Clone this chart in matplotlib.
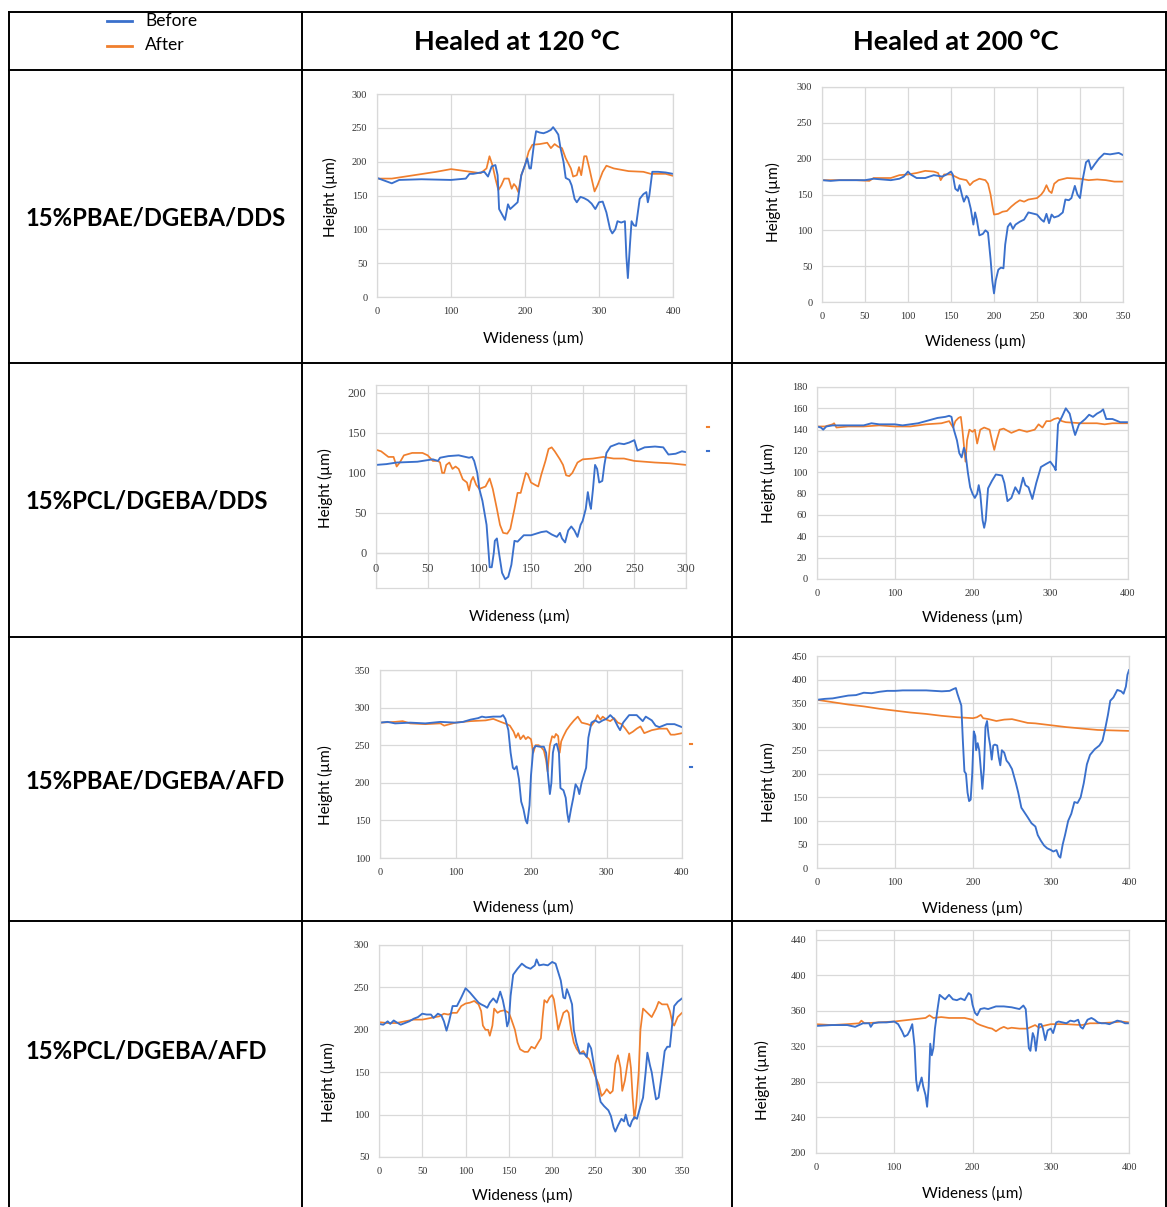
import matplotlib
matplotlib.use("Agg")
from matplotlib import pyplot as plt
from matplotlib.lines import Line2D

# --- data (x = wideness in um, y = height in um) ---

# row 1: 15%PBAE/DGEBA/DDS, healed at 120 C
r1c1_before_x = [0, 10, 20, 30, 60, 100, 120, 125, 130, 145, 150, 155, 160, 163, 165, 170, 173, 177, 180, 185, 190, 195,
                 200, 203, 206, 208, 212, 215, 220, 225, 230, 235, 238, 242, 245, 248, 252, 255, 260, 263, 267, 270, 275,
                 280, 285, 290, 295, 300, 305, 310, 315, 318, 322, 325, 330, 335, 337, 339, 342, 344, 347, 350, 355, 360,
                 364, 366, 368, 372, 380, 390, 400]
r1c1_before_y = [176, 172, 168, 173, 174, 173, 175, 182, 182, 185, 178, 193, 195, 180, 130, 120, 114, 137, 130, 135, 140, 180,
                 195, 205, 190, 190, 225, 245, 243, 242, 244, 247, 251, 245, 240, 220, 200, 176, 173, 165, 145, 140, 148,
                 146, 143, 138, 130, 140, 141, 125, 100, 94, 100, 112, 110, 112, 60, 28, 80, 112, 106, 105, 145, 152,
                 155, 140, 150, 185, 185, 184, 182]
r1c1_after_x = [0, 20, 50, 80, 100, 120, 140, 148, 152, 156, 160, 164, 168, 172, 178, 182, 185, 188, 191, 195, 200, 205, 210,
                220, 230, 235, 240, 245, 250, 255, 262, 265, 270, 273, 276, 280, 283, 287, 290, 294, 298, 305, 310, 320,
                340, 360, 370, 390, 400]
r1c1_after_y = [175, 175, 180, 185, 189, 186, 183, 190, 208, 195, 175, 158, 165, 175, 175, 160, 167, 163, 155, 180, 195, 215,
                225, 226, 228, 220, 226, 222, 220, 205, 190, 178, 180, 192, 180, 208, 208, 190, 175, 156, 165, 185, 194,
                190, 186, 185, 182, 182, 179]

# row 1: healed at 200 C
r1c2_before_x = [0, 10, 20, 50, 60, 80, 90, 95, 100, 103, 110, 120, 130, 140, 145, 150, 152, 155, 158, 160, 163, 165, 168,
                 170, 173, 176, 178, 180, 183, 187, 190, 193, 196, 198, 200, 202, 205, 208, 211, 213, 216, 219, 222, 225,
                 230, 235, 240, 250, 255, 258, 261, 264, 267, 270, 275, 280, 283, 287, 290, 294, 297, 300, 303, 307, 310,
                 313, 317, 322, 328, 335, 340, 345, 350]
r1c2_before_y = [170, 169, 170, 170, 172, 170, 172, 175, 182, 178, 173, 173, 177, 175, 178, 182, 178, 158, 155, 163, 148, 140,
                 148, 145, 130, 108, 125, 115, 93, 95, 100, 97, 60, 30, 12, 30, 45, 48, 47, 80, 105, 110, 102, 108,
                 112, 115, 125, 122, 115, 112, 123, 110, 122, 118, 120, 125, 143, 142, 145, 162, 150, 145, 170, 195, 198,
                 185, 192, 200, 207, 206, 207, 208, 205]
r1c2_after_x = [0, 20, 40, 55, 60, 80, 90, 100, 110, 120, 130, 135, 138, 142, 150, 160, 168, 172, 176, 183, 190, 193, 196,
                198, 200, 205, 210, 215, 220, 225, 230, 235, 240, 245, 250, 255, 258, 261, 264, 267, 270, 275, 285, 300,
                310, 320, 330, 340, 350]
r1c2_after_y = [170, 170, 170, 169, 173, 173, 177, 178, 180, 183, 182, 180, 170, 178, 178, 172, 170, 163, 168, 172, 170, 165,
                150, 135, 122, 123, 126, 127, 133, 138, 142, 140, 143, 144, 145, 150, 155, 163, 155, 152, 165, 170, 173,
                172, 170, 171, 170, 168, 168]

# row 2: 15%PCL/DGEBA/DDS, healed at 120 C
r2c1_before_x = [0, 10, 20, 40, 55, 60, 62, 70, 80, 90, 93, 95, 98, 100, 103, 105, 107, 109, 110, 112, 114, 115, 117, 119,
                 122, 125, 128, 131, 133, 134, 137, 140, 143, 150, 160, 165, 170, 175, 178, 180, 183, 186, 189, 192, 195,
                 198, 200, 203, 205, 207, 208, 210, 212, 214, 216, 219, 221, 223, 227, 235, 240, 245, 250, 253, 260, 270,
                 278, 283, 290, 296, 300]
r2c1_before_y = [110, 111, 113, 114, 117, 115, 119, 121, 122, 119, 120, 115, 100, 80, 65, 50, 35, 0, -18, -18, 0, 15, 18, 0,
                 -25, -33, -30, -15, 5, 15, 14, 18, 22, 22, 26, 27, 23, 20, 25, 18, 13, 28, 33, 28, 20,
                 35, 40, 55, 76, 60, 55, 80, 110, 105, 88, 90, 110, 125, 133, 137, 136, 138, 141, 128, 132, 133,
                 132, 123, 124, 127, 126]
r2c1_after_x = [0, 5, 12, 17, 20, 23, 27, 35, 45, 50, 55, 60, 62, 64, 66, 68, 71, 74, 77, 80, 84, 88, 90, 92, 94, 97, 100,
                106, 110, 113, 117, 120, 123, 127, 130, 134, 137, 140, 143, 145, 147, 150, 154, 157, 160, 164, 167, 170,
                173, 178, 181, 184, 187, 190, 195, 200, 210, 220, 230, 240, 250, 270, 285, 300]
r2c1_after_y = [129, 127, 120, 120, 108, 113, 122, 125, 125, 122, 115, 115, 113, 100, 100, 110, 113, 105, 108, 105, 92, 88, 78,
                90, 95, 85, 80, 83, 93, 80, 55, 35, 25, 24, 30, 55, 75, 75, 90, 100, 98, 88, 85, 83, 98, 115, 130, 132,
                127, 117, 110, 97, 96, 100, 113, 117, 118, 120, 118, 118, 115, 113, 112, 110]

# row 2: healed at 200 C
r2c2_before_x = [0, 5, 8, 12, 20, 40, 60, 70, 80, 100, 110, 130, 140, 150, 155, 165, 170, 173, 176, 180, 183, 186, 189, 191,
                 194, 197, 200, 203, 206, 208, 210, 213, 215, 217, 220, 225, 230, 238, 241, 245, 250, 255, 260, 265, 268,
                 272, 277, 282, 288, 295, 300, 305, 307, 310, 315, 320, 325, 330, 332, 337, 345, 350, 355, 360, 365, 368,
                 372, 380, 390, 400]
r2c2_before_y = [143, 142, 140, 143, 144, 144, 144, 146, 145, 145, 144, 146, 148, 150, 151, 152, 153, 152, 140, 130, 118, 114,
                 123, 118, 100, 86, 80, 76, 80, 88, 80, 55, 48, 55, 85, 92, 98, 97, 90, 73, 76, 86, 80, 95, 88,
                 86, 75, 90, 105, 108, 110, 105, 102, 145, 152, 160, 155, 140, 135, 145, 150, 154, 152, 155, 157, 159,
                 150, 150, 147, 147]
r2c2_after_x = [0, 10, 20, 22, 25, 40, 60, 80, 100, 120, 140, 160, 170, 175, 178, 182, 185, 187, 189, 191, 193, 196, 200,
                203, 206, 210, 215, 222, 225, 228, 231, 235, 240, 250, 260, 270, 280, 285, 290, 295, 300, 305, 310, 315,
                320, 340, 360, 370, 380, 400]
r2c2_after_y = [143, 143, 145, 146, 142, 143, 143, 144, 143, 143, 145, 146, 148, 142, 148, 151, 152, 140, 125, 110, 130, 140,
                138, 140, 127, 140, 142, 140, 130, 121, 130, 140, 141, 137, 140, 138, 140, 145, 142, 148, 148, 150, 151,
                148, 147, 146, 146, 145, 146, 146]

# row 3: 15%PBAE/DGEBA/AFD, healed at 120 C
r3c1_before_x = [0, 10, 20, 40, 60, 80, 100, 110, 120, 130, 135, 140, 150, 160, 163, 166, 170, 173, 176, 178, 181, 184, 187,
                 190, 193, 195, 198, 200, 203, 206, 212, 217, 220, 223, 225, 227, 229, 231, 234, 237, 239, 243, 246, 248,
                 250, 253, 256, 259, 262, 264, 267, 270, 273, 276, 280, 285, 290, 295, 300, 305, 310, 315, 318, 322, 330,
                 340, 345, 348, 352, 360, 365, 370, 375, 380, 390, 400]
r3c1_before_y = [280, 281, 279, 280, 279, 281, 280, 281, 284, 286, 288, 287, 288, 288, 290, 285, 270, 240, 220, 218, 222, 205,
                 175, 165, 150, 146, 170, 210, 245, 249, 248, 248, 240, 205, 185, 200, 240, 250, 252, 240, 193, 190, 180,
                 160, 148, 165, 180, 198, 193, 185, 200, 210, 220, 260, 280, 283, 280, 283, 285, 290, 285, 275, 270, 280,
                 290, 290, 285, 282, 288, 283, 276, 274, 276, 278, 278, 274]
r3c1_after_x = [0, 20, 30, 40, 60, 80, 85, 100, 120, 140, 150, 160, 168, 172, 177, 180, 183, 186, 190, 193, 196, 200, 203,
                206, 210, 213, 217, 220, 222, 225, 228, 231, 233, 236, 238, 240, 243, 247, 252, 257, 262, 267, 275, 280,
                285, 288, 292, 295, 300, 305, 310, 315, 320, 325, 330, 335, 340, 345, 350, 360, 370, 380, 385, 390, 400]
r3c1_after_y = [280, 281, 282, 279, 278, 279, 276, 280, 282, 283, 285, 281, 278, 276, 268, 260, 266, 258, 263, 258, 261, 258,
                240, 250, 250, 248, 243, 230, 215, 250, 262, 260, 265, 262, 240, 255, 262, 270, 277, 283, 288, 280, 278,
                276, 283, 290, 284, 288, 284, 282, 286, 280, 278, 272, 265, 268, 272, 275, 266, 270, 272, 272, 264, 264,
                266]

# row 3: healed at 200 C
r3c2_before_x = [0, 10, 20, 30, 40, 50, 60, 70, 80, 90, 100, 110, 120, 140, 160, 170, 175, 178, 180, 183, 185, 187, 189, 191,
                 193, 195, 197, 199, 201, 203, 204, 206, 208, 210, 212, 214, 216, 218, 220, 222, 224, 226, 228, 231, 233,
                 235, 237, 240, 243, 246, 250, 255, 258, 262, 266, 270, 275, 280, 283, 287, 291, 295, 300, 303, 307, 310,
                 312, 315, 318, 322, 326, 330, 334, 338, 342, 346, 350, 356, 362, 366, 370, 373, 376, 380, 385, 390, 393,
                 396, 398, 400]
r3c2_before_y = [357, 359, 360, 363, 366, 367, 372, 371, 374, 376, 376, 377, 377, 377, 375, 376, 380, 382, 370, 355, 345, 270,
                 205, 200, 160, 142, 145, 200, 290, 280, 250, 265, 250, 210, 168, 210, 300, 312, 280, 260, 230, 260, 262,
                 260, 235, 218, 250, 245, 228, 222, 210, 180, 160, 128, 118, 108, 95, 88, 70, 58, 48, 42, 38, 35, 38, 25,
                 22, 50, 70, 100, 115, 140, 138, 150, 180, 220, 240, 252, 260, 270, 300, 325, 355, 362, 378, 375, 370,
                 385, 410, 420]
r3c2_after_x = [0, 20, 40, 60, 80, 100, 120, 140, 160, 180, 200, 205, 210, 213, 220, 230, 240, 250, 260, 270, 280, 300, 320,
                340, 360, 380, 400]
r3c2_after_y = [357, 352, 347, 343, 338, 334, 330, 327, 323, 320, 318, 320, 325, 318, 316, 312, 315, 316, 312, 308, 307, 303,
                299, 296, 293, 292, 291]

# row 4: 15%PCL/DGEBA/AFD, healed at 120 C
r4c1_before_x = [0, 5, 10, 13, 17, 20, 25, 30, 35, 40, 45, 50, 55, 60, 63, 68, 72, 75, 78, 81, 85, 90, 95, 100, 105, 110, 115,
                 118, 122, 125, 128, 132, 136, 140, 143, 146, 148, 150, 152, 155, 160, 165, 170, 175, 180, 182, 185, 190,
                 195, 200, 204, 207, 210, 213, 215, 217, 220, 223, 225, 228, 232, 237, 240, 242, 245, 248, 252, 256, 260,
                 265, 268, 271, 273, 276, 280, 283, 285, 288, 290, 292, 295, 298, 302, 305, 308, 310, 313, 315, 318, 320,
                 323, 327, 330, 333, 336, 338, 341, 345, 350]
r4c1_before_y = [207, 206, 210, 207, 211, 209, 206, 208, 210, 213, 215, 219, 218, 218, 214, 219, 217, 210, 199, 210, 228, 228,
                 238, 249, 244, 238, 232, 230, 228, 226, 232, 237, 232, 245, 235, 220, 204, 210, 240, 265, 272, 278, 274,
                 272, 276, 283, 276, 277, 276, 280, 278, 268, 258, 238, 237, 248, 240, 230, 200, 185, 172, 172, 168, 184,
                 178, 160, 135, 115, 110, 105, 98, 85, 80, 87, 95, 92, 100, 88, 86, 92, 97, 95, 110, 120, 150, 173, 158,
                 150, 130, 118, 120, 150, 175, 180, 180, 200, 228, 233, 237]
r4c1_after_x = [0, 10, 20, 30, 40, 50, 60, 70, 75, 80, 85, 90, 95, 100, 105, 110, 115, 118, 120, 123, 126, 128, 131, 133, 137,
                140, 145, 150, 153, 157, 160, 163, 168, 172, 176, 180, 184, 187, 189, 191, 194, 197, 200, 202, 205, 207,
                210, 213, 217, 219, 222, 225, 228, 232, 236, 240, 243, 246, 250, 254, 257, 260, 263, 267, 270, 273, 276,
                279, 281, 284, 287, 289, 291, 293, 295, 297, 300, 302, 305, 310, 315, 320, 323, 327, 333, 336, 339, 341,
                345, 350]
r4c1_after_y = [209, 208, 208, 210, 212, 212, 214, 216, 219, 218, 220, 220, 228, 231, 232, 234, 230, 222, 205, 200, 200, 193,
                205, 225, 220, 222, 223, 220, 212, 200, 185, 177, 174, 174, 180, 178, 185, 190, 215, 235, 232, 238, 241,
                236, 215, 200, 210, 220, 223, 220, 200, 185, 178, 172, 175, 168, 165, 155, 145, 135, 122, 125, 130, 125,
                128, 160, 170, 155, 128, 140, 160, 172, 155, 120, 95, 110, 150, 200, 225, 220, 215, 225, 233, 230, 230,
                222, 208, 205, 215, 220]

# row 4: healed at 200 C
r4c2_before_x = [0, 20, 40, 50, 60, 68, 70, 73, 80, 90, 100, 105, 110, 113, 117, 120, 123, 126, 128, 130, 132, 135, 137, 140,
                 142, 144, 146, 148, 150, 152, 155, 158, 162, 165, 170, 175, 180, 185, 190, 195, 198, 200, 203, 206, 210,
                 215, 220, 230, 240, 250, 260, 265, 268, 270, 272, 274, 277, 279, 281, 283, 285, 288, 290, 293, 296, 300,
                 303, 307, 310, 320, 325, 330, 335, 338, 341, 344, 347, 352, 356, 360, 365, 370, 375, 380, 385, 390, 395,
                 400]
r4c2_before_y = [343, 344, 344, 342, 346, 346, 342, 346, 347, 347, 348, 345, 337, 331, 333, 338, 345, 320, 282, 270, 276, 285,
                 275, 265, 252, 275, 323, 310, 318, 340, 360, 378, 375, 373, 378, 373, 372, 374, 372, 380, 378, 367, 358,
                 355, 362, 363, 362, 365, 365, 364, 362, 366, 362, 340, 318, 315, 335, 330, 315, 330, 345, 345, 340, 327,
                 338, 340, 335, 347, 348, 346, 349, 348, 350, 342, 340, 345, 350, 352, 350, 347, 346, 346, 345, 347, 349,
                 348, 346, 346]
r4c2_after_x = [0, 20, 40, 55, 58, 62, 80, 100, 110, 120, 130, 140, 145, 150, 160, 170, 180, 190, 200, 205, 210, 220, 225, 230,
                235, 240, 245, 250, 260, 270, 275, 280, 285, 290, 300, 320, 340, 350, 360, 380, 390, 400]
r4c2_after_y = [345, 344, 345, 346, 349, 346, 347, 348, 349, 350, 351, 352, 355, 352, 353, 352, 352, 352, 350, 346, 344, 341,
                340, 337, 340, 342, 340, 341, 340, 340, 342, 344, 341, 343, 345, 345, 344, 346, 346, 347, 348, 347]

row_labels = ["15%PBAE/DGEBA/DDS", "15%PCL/DGEBA/DDS", "15%PBAE/DGEBA/AFD", "15%PCL/DGEBA/AFD"]
col_labels = ["Healed at 120 °C", "Healed at 200 °C"]
series_labels = ["Before", "After"]

# --- styling ---
W, H = 1167, 1207
BLUE = "#3a70cc"
ORANGE = "#f07f2d"
GRID = "#d9d9d9"
TICK_FONT = "Liberation Serif"
SANS = "Lato"


def fx(px):
    return px / W


def fy(py):
    return 1 - py / H


fig = plt.figure(figsize=(W / 100, H / 100), dpi=100)
fig.patch.set_facecolor("white")


def hline(y, x0, x1):
    fig.add_artist(Line2D([fx(x0), fx(x1)], [fy(y), fy(y)], color="black", lw=1.4))


def vline(x, y0, y1):
    fig.add_artist(Line2D([fx(x), fx(x)], [fy(y0), fy(y1)], color="black", lw=1.4))


# table grid
for y in [12, 70, 363, 637, 921]:
    hline(y, 9, 1167)
for x in [9, 302, 732, 1166]:
    vline(x, 12, 1207)

# header
fig.text(fx(517), fy(42), col_labels[0], ha="center", va="center", fontsize=19.5, fontweight="bold", family=SANS)
fig.text(fx(956), fy(42), col_labels[1], ha="center", va="center", fontsize=19.5, fontweight="bold", family=SANS)

# legend in the corner cell
fig.add_artist(Line2D([fx(107), fx(132)], [fy(21), fy(21)], color=BLUE, lw=2))
fig.add_artist(Line2D([fx(107), fx(132)], [fy(46), fy(46)], color=ORANGE, lw=2))
fig.text(fx(145), fy(21), series_labels[0], ha="left", va="center", fontsize=12.5, family=SANS)
fig.text(fx(145), fy(45), series_labels[1], ha="left", va="center", fontsize=12.5, family=SANS)

# row labels
for lab, yc in zip(row_labels, [218, 501, 781, 1051]):
    fig.text(fx(25), fy(yc), lab, ha="left", va="center", fontsize=17.2, fontweight="bold", family=SANS)


def panel(box, bx, by, axx, ay, xlim, ylim, xticks, yticks, xlab_at, ylab_at, labels_at_zero=False):
    l, r, t, b = box
    ax = fig.add_axes([fx(l), fy(b), (r - l) / W, (b - t) / H])
    ax.plot(axx, ay, color=ORANGE, lw=1.25)
    ax.plot(bx, by, color=BLUE, lw=1.35)
    ax.set_xlim(*xlim)
    ax.set_ylim(*ylim)
    ax.set_xticks(xticks)
    ax.set_yticks(yticks)
    ax.grid(True, color=GRID, lw=0.9)
    ax.set_axisbelow(True)
    for s in ax.spines.values():
        s.set_color(GRID)
        s.set_linewidth(0.9)
    ax.tick_params(length=0, pad=7, labelsize=7.5, labelcolor="#333333")
    for lab in ax.get_xticklabels() + ax.get_yticklabels():
        lab.set_family(TICK_FONT)
    if labels_at_zero:
        ax.set_xticklabels([])
        ax.axhline(0, color=GRID, lw=0.9, zorder=0)
        for xt in xticks:
            ax.annotate(str(xt), (xt, 0), xytext=(0, -7), textcoords="offset points", ha="center", va="top",
                        fontsize=9, family=TICK_FONT, color="#444444")
        for lab in ax.get_yticklabels():
            lab.set_fontsize(9)
            lab.set_color("#444444")
    fig.text(fx(xlab_at[0]), fy(xlab_at[1]), "Wideness (µm)", ha="center", va="center", fontsize=11, family=SANS)
    fig.text(fx(ylab_at[0]), fy(ylab_at[1]), "Height (µm)", ha="center", va="center", fontsize=11, family=SANS,
             rotation=90)
    return ax


panel((377, 673, 94, 297), r1c1_before_x, r1c1_before_y, r1c1_after_x, r1c1_after_y,
      (0, 400), (0, 300), range(0, 401, 100), range(0, 301, 50), (533, 338), (330, 197))
panel((822, 1123, 87, 302), r1c2_before_x, r1c2_before_y, r1c2_after_x, r1c2_after_y,
      (0, 350), (0, 300), range(0, 351, 50), range(0, 301, 50), (975, 341), (773, 202))
panel((376, 686, 385, 588), r2c1_before_x, r2c1_before_y, r2c1_after_x, r2c1_after_y,
      (0, 300), (-44, 210), range(0, 301, 50), range(0, 201, 50), (519, 616), (325, 488), labels_at_zero=True)
panel((817, 1128, 387, 579), r2c2_before_x, r2c2_before_y, r2c2_after_x, r2c2_after_y,
      (0, 400), (0, 180), range(0, 401, 100), range(0, 181, 20), (972, 617), (768, 483))
panel((380, 682, 670, 858), r3c1_before_x, r3c1_before_y, r3c1_after_x, r3c1_after_y,
      (0, 400), (100, 350), range(0, 401, 100), range(100, 351, 50), (523, 907), (325, 785))
panel((817, 1129, 656, 868), r3c2_before_x, r3c2_before_y, r3c2_after_x, r3c2_after_y,
      (0, 400), (0, 450), range(0, 401, 100), range(0, 451, 50), (972, 908), (768, 782))
panel((379, 682, 945, 1157), r4c1_before_x, r4c1_before_y, r4c1_after_x, r4c1_after_y,
      (0, 350), (50, 300), range(0, 351, 50), range(50, 301, 50), (522, 1195), (328, 1082))
panel((816, 1129, 930, 1153), r4c2_before_x, r4c2_before_y, r4c2_after_x, r4c2_after_y,
      (0, 400), (200, 451), range(0, 401, 100), range(200, 441, 40), (972, 1193), (762, 1080))

# stray legend remnants next to two of the panels
for (px, py, c) in [(708, 427, ORANGE), (708, 451, BLUE), (691, 744, ORANGE), (691, 767, BLUE)]:
    fig.add_artist(Line2D([fx(px - 1), fx(px + 1)], [fy(py), fy(py)], color=c, lw=1.5))

fig.savefig("out.png", dpi=100)
